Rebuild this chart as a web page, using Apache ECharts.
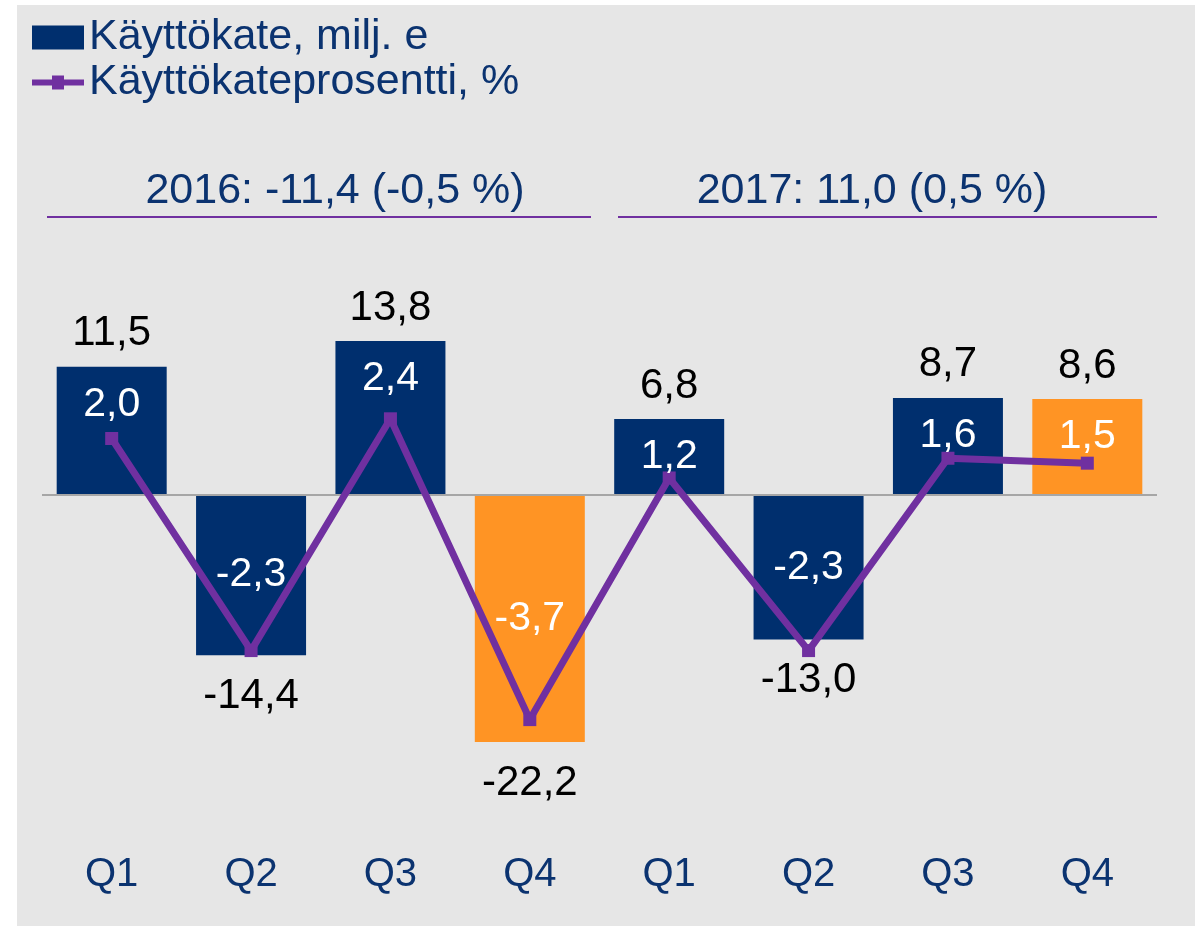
<!DOCTYPE html>
<html>
<head>
<meta charset="utf-8">
<script src="https://cdn.jsdelivr.net/npm/echarts@6/dist/echarts.min.js"></script>
<style>
html, body { margin: 0; padding: 0; background: #fff; }
#chart { width: 1195px; height: 926px; }
</style>
</head>
<body>
<div id="chart"></div>
<script>
var quarters = ['Q1', 'Q2', 'Q3', 'Q4', 'Q1', 'Q2', 'Q3', 'Q4'];
var ebitda = [11.5, -14.4, 13.8, -22.2, 6.8, -13.0, 8.7, 8.6];       // milj. e
var ebitdaPct = [2.0, -2.3, 2.4, -3.7, 1.2, -2.3, 1.6, 1.5];        // %
var orangeIdx = [3, 7];
var yearTitles = ['2016: -11,4 (-0,5 %)', '2017: 11,0 (0,5 %)'];
var names = ['Käyttökate, milj. e', 'Käyttökateprosentti, %'];

var NAVY = '#002f6e';
var ORANGE = '#ff9424';
var PURPLE = '#7030a0';
var TXT = '#0b3370';
var FONT = "'Liberation Sans', Arial, sans-serif";

function fmt(v) {
    return v.toFixed(1).replace('.', ',');
}

var chart = echarts.init(document.getElementById('chart'), null, { renderer: 'canvas' });

var barData = ebitda.map(function (v, i) {
    return {
        value: v,
        itemStyle: { color: orangeIdx.indexOf(i) >= 0 ? ORANGE : NAVY },
        label: v >= 0 ? { position: 'top', distance: 12 } : { position: 'bottom', distance: 20 }
    };
});
// transparent copy of the bars, only to carry the white % labels
var pctLabelData = ebitda.map(function (v) {
    return {
        value: v,
        label: { position: v >= 0 ? 'insideTop' : 'inside' }
    };
});

var option = {
    animation: false,
    textStyle: { fontFamily: FONT },
    graphic: [
        { type: 'rect', left: 17, top: 5, z: -10, shape: { width: 1178, height: 921 }, style: { fill: '#e6e6e6' } },
        { type: 'text', x: 335, y: 191, style: { text: yearTitles[0], fill: TXT, fontSize: 43, fontFamily: FONT, align: 'center', verticalAlign: 'middle' } },
        { type: 'text', x: 872, y: 191, style: { text: yearTitles[1], fill: TXT, fontSize: 43, fontFamily: FONT, align: 'center', verticalAlign: 'middle' } },
        { type: 'line', shape: { x1: 47, y1: 217, x2: 591, y2: 217 }, style: { stroke: PURPLE, lineWidth: 2 } },
        { type: 'line', shape: { x1: 618, y1: 217, x2: 1157, y2: 217 }, style: { stroke: PURPLE, lineWidth: 2 } }
    ],
    legend: {
        orient: 'vertical',
        left: 32,
        top: 16,
        padding: 0,
        itemWidth: 52,
        itemHeight: 24,
        itemGap: 2,
        symbolKeepAspect: true,
        selectedMode: false,
        textStyle: { fontSize: 43, color: TXT, fontFamily: FONT },
        data: [
            { name: names[0], icon: 'rect' },
            { name: names[1], icon: 'path://M0,4 L52,4 L52,10 L0,10 Z M20,0 L32,0 L32,14 L20,14 Z' }
        ]
    },
    grid: { left: 42, right: 38, top: 260, bottom: 126 },
    xAxis: {
        type: 'category',
        data: quarters,
        axisLine: { show: false },
        axisTick: { show: false },
        axisLabel: { fontSize: 40, color: TXT, margin: 55, fontFamily: FONT }
    },
    yAxis: [
        { type: 'value', min: -27.4, max: 21.08, show: false },
        { type: 'value', min: -5.33, max: 5.62, show: false }
    ],
    series: [
        {
            name: names[0],
            type: 'bar',
            barWidth: 110,
            itemStyle: { color: NAVY },
            data: barData,
            label: {
                show: true,
                color: '#000',
                fontSize: 42,
                fontFamily: FONT,
                formatter: function (p) { return fmt(p.value); }
            },
            markLine: {
                silent: true,
                symbol: 'none',
                label: { show: false },
                lineStyle: { color: '#a6a6a6', width: 2, type: 'solid' },
                data: [{ yAxis: 0 }]
            }
        },
        {
            name: 'pct-labels',
            type: 'bar',
            barWidth: 110,
            barGap: '-100%',
            silent: true,
            z: 7,
            itemStyle: { color: 'rgba(0,0,0,0)' },
            data: pctLabelData,
            label: {
                show: true,
                color: '#fff',
                fontSize: 41,
                distance: 17,
                fontFamily: FONT,
                formatter: function (p) { return fmt(ebitdaPct[p.dataIndex]); }
            }
        },
        {
            name: names[1],
            type: 'line',
            yAxisIndex: 1,
            z: 6,
            symbol: 'rect',
            symbolSize: 13,
            itemStyle: { color: PURPLE },
            lineStyle: { color: PURPLE, width: 7 },
            data: ebitdaPct
        }
    ]
};

chart.setOption(option);
</script>
</body>
</html>
